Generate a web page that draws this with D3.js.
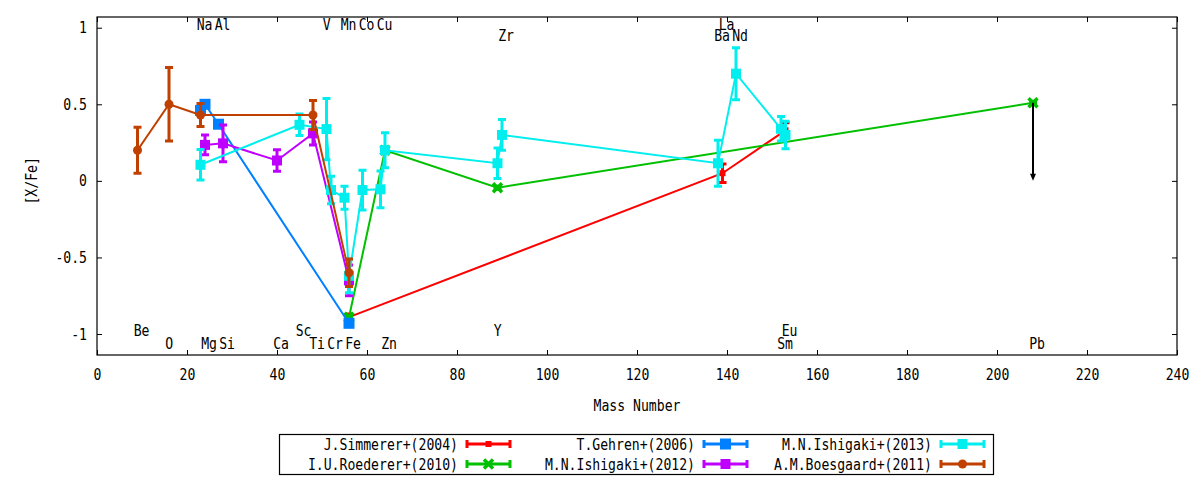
<!DOCTYPE html>
<html>
<head>
<meta charset="utf-8">
<script src="https://cdn.jsdelivr.net/npm/d3@7"></script>
<style>
  body { margin: 0; background: #fff; }
  text { font-family: "DejaVu Sans Mono", monospace; font-size: 16px; fill: #000; }
</style>
</head>
<body>
<div id="wrapper"></div>
<script>
// values: mass number, [X/Fe], error
const simmererMass = [56, 139, 153]
const simmererVal  = [-0.89, 0.05, 0.33]
const simmererErr  = [0.02, 0.06, 0.05]

const roedererMass = [56, 64, 89, 208]
const roedererVal  = [-0.89, 0.2, -0.045, 0.51]
const roedererErr  = [0.01, 0.01, 0.01, 0.01]

const gehrenMass = [23, 24, 27, 56]
const gehrenVal  = [0.46, 0.5, 0.37, -0.93]
const gehrenErr  = [0.02, 0.02, 0.02, 0.02]

const ishigaki12Mass = [24, 28, 40, 48, 56]
const ishigaki12Val  = [0.235, 0.245, 0.133, 0.31, -0.65]
const ishigaki12Err  = [0.065, 0.12, 0.07, 0.075, 0.1]

const ishigaki13Mass = [23, 45, 51, 52, 55, 56, 59, 63, 64, 89, 90, 138, 142, 152, 153]
const ishigaki13Val  = [0.105, 0.366, 0.338, -0.06, -0.11, -0.62, -0.06, -0.055, 0.2, 0.115, 0.3, 0.115, 0.7, 0.34, 0.3]
const ishigaki13Err  = [0.1, 0.07, 0.2, 0.09, 0.075, 0.11, 0.13, 0.12, 0.115, 0.1, 0.1, 0.15, 0.17, 0.08, 0.09]

const boesgaardMass = [9, 16, 23, 48, 56]
const boesgaardVal  = [0.2, 0.5, 0.43, 0.43, -0.6]
const boesgaardErr  = [0.15, 0.24, 0.075, 0.095, 0.09]

// upper limit arrow (Pb)
const limitMass = [208]
const limitFrom = [0.51]
const limitTo   = [0]

// element labels: name, mass, label height in [X/Fe]
const elemNames = ["Be","O","Na","Mg","Al","Si","Ca","Sc","Ti","V","Cr","Mn","Fe","Co","Cu","Zn","Y","Zr","Ba","La","Nd","Sm","Eu","Pb"]
const elemMass  = [9, 16, 23, 24, 27, 28, 40, 45, 48, 51, 52, 55, 56, 59, 63, 64, 89, 90, 138, 139, 142, 152, 153, 208]
const elemY     = [-0.974, -1.065, 1.02, -1.065, 1.02, -1.065, -1.065, -0.974, -1.065, 1.02, -1.065, 1.02, -1.065, 1.02, 1.02, -1.065, -0.974, 0.948, 0.948, 1.02, 0.948, -1.065, -0.974, -1.065]

const xTicks = [0, 20, 40, 60, 80, 100, 120, 140, 160, 180, 200, 220, 240]
const yTicks = [-1, -0.5, 0, 0.5, 1]

function drawChart() {

  let dimensions = {
    width: 1200,
    height: 480,
    margin: {
      top: 17,
      right: 23,
      bottom: 125,
      left: 97,
    },
  }
  dimensions.boundedWidth = dimensions.width
    - dimensions.margin.left
    - dimensions.margin.right
  dimensions.boundedHeight = dimensions.height
    - dimensions.margin.top
    - dimensions.margin.bottom

  const wrapper = d3.select("#wrapper")
    .append("svg")
      .attr("width", dimensions.width)
      .attr("height", dimensions.height)

  const bounds = wrapper.append("g")
      .attr("transform", `translate(${dimensions.margin.left},${dimensions.margin.top})`)

  const xScale = d3.scaleLinear()
    .domain([0, 240])
    .range([0, dimensions.boundedWidth])

  const yScale = d3.scaleLinear()
    .domain([-1.137, 1.07])
    .range([dimensions.boundedHeight, 0])

  // axes, gnuplot style: ticks inward and mirrored
  const fmt = d => String(d)
  const xAxis = bounds.append("g")
      .attr("transform", `translate(0,${dimensions.boundedHeight})`)
      .call(d3.axisBottom(xScale).tickValues(xTicks).tickFormat(fmt).tickSize(-5).tickPadding(14))
  const xAxisTop = bounds.append("g")
      .call(d3.axisTop(xScale).tickValues(xTicks).tickFormat("").tickSize(-5))
  const yAxis = bounds.append("g")
      .call(d3.axisLeft(yScale).tickValues(yTicks).tickFormat(fmt).tickSize(-5).tickPadding(10))
  const yAxisRight = bounds.append("g")
      .attr("transform", `translate(${dimensions.boundedWidth},0)`)
      .call(d3.axisRight(yScale).tickValues(yTicks).tickFormat("").tickSize(-5))

  bounds.selectAll(".domain").remove()
  bounds.selectAll(".tick text")
      .style("font-family", "DejaVu Sans Mono")
      .style("font-size", "16px")
  bounds.selectAll(".tick line").attr("stroke", "#000")

  bounds.append("rect")
      .attr("width", dimensions.boundedWidth)
      .attr("height", dimensions.boundedHeight)
      .attr("fill", "none")
      .attr("stroke", "#000")
      .attr("stroke-width", 1.2)

  // axis titles
  bounds.append("text")
      .attr("x", xScale(120))
      .attr("y", dimensions.boundedHeight + 50)
      .attr("text-anchor", "middle")
      .attr("dominant-baseline", "central")
      .text("Mass Number")

  bounds.append("text")
      .attr("transform", `translate(${-66},${yScale(0)}) rotate(-90)`)
      .attr("text-anchor", "middle")
      .attr("dominant-baseline", "central")
      .text("[X/Fe]")

  // element labels, left aligned just before the mass number
  const unit = xScale(1) - xScale(0)
  bounds.append("g").selectAll("text")
    .data(elemNames)
    .join("text")
      .attr("x", (d, i) => xScale(elemMass[i]) - 0.85 * unit)
      .attr("y", (d, i) => yScale(elemY[i]))
      .attr("text-anchor", "start")
      .attr("dominant-baseline", "central")
      .text(d => d)

  const series = [
    {name: "J.Simmerer+(2004)", color: "#ff0000", mass: simmererMass, val: simmererVal, err: simmererErr, marker: "small"},
    {name: "I.U.Roederer+(2010)", color: "#00c000", mass: roedererMass, val: roedererVal, err: roedererErr, marker: "cross"},
    {name: "T.Gehren+(2006)", color: "#0080ff", mass: gehrenMass, val: gehrenVal, err: gehrenErr, marker: "bigsquare"},
    {name: "M.N.Ishigaki+(2012)", color: "#c000ff", mass: ishigaki12Mass, val: ishigaki12Val, err: ishigaki12Err, marker: "square"},
    {name: "M.N.Ishigaki+(2013)", color: "#00eeee", mass: ishigaki13Mass, val: ishigaki13Val, err: ishigaki13Err, marker: "square"},
    {name: "A.M.Boesgaard+(2011)", color: "#c04000", mass: boesgaardMass, val: boesgaardVal, err: boesgaardErr, marker: "circle"},
  ]

  const drawMarker = (g, type, color, cx, cy) => {
    if (type == "small") {
      g.append("rect").attr("x", cx - 3).attr("y", cy - 3).attr("width", 6).attr("height", 6).attr("fill", color)
    } else if (type == "cross") {
      g.append("path")
        .attr("d", `M${cx-4.5},${cy-4.5}L${cx+4.5},${cy+4.5}M${cx-4.5},${cy+4.5}L${cx+4.5},${cy-4.5}`)
        .attr("stroke", color).attr("stroke-width", 3.5).attr("fill", "none")
    } else if (type == "bigsquare") {
      g.append("rect").attr("x", cx - 5.5).attr("y", cy - 5.5).attr("width", 11).attr("height", 11).attr("fill", color)
    } else if (type == "square") {
      g.append("rect").attr("x", cx - 5).attr("y", cy - 5).attr("width", 10).attr("height", 10).attr("fill", color)
    } else {
      g.append("circle").attr("cx", cx).attr("cy", cy).attr("r", 4.5).attr("fill", color)
    }
  }

  const capW = 4
  series.forEach(s => {
    const g = bounds.append("g")
    const idx = d3.range(s.mass.length)
    const lineGenerator = d3.line()
      .x(i => xScale(s.mass[i]))
      .y(i => yScale(s.val[i]))
    g.append("path")
        .attr("d", lineGenerator(idx))
        .attr("fill", "none")
        .attr("stroke", s.color)
        .attr("stroke-width", 2)

    idx.forEach(i => {
      const cx = xScale(s.mass[i])
      const y0 = yScale(s.val[i] - s.err[i])
      const y1 = yScale(s.val[i] + s.err[i])
      g.append("path")
          .attr("d", `M${cx},${y0}L${cx},${y1}M${cx-capW},${y0}L${cx+capW},${y0}M${cx-capW},${y1}L${cx+capW},${y1}`)
          .attr("stroke", s.color)
          .attr("stroke-width", 3)
          .attr("fill", "none")
      drawMarker(g, s.marker, s.color, cx, yScale(s.val[i]))
    })
  })

  // Pb upper limit
  limitMass.forEach((m, i) => {
    const cx = xScale(m)
    const yEnd = yScale(limitTo[i])
    bounds.append("path")
        .attr("d", `M${cx},${yScale(limitFrom[i])}L${cx},${yEnd - 4}`)
        .attr("stroke", "#000").attr("stroke-width", 2)
    bounds.append("path")
        .attr("d", `M${cx-3},${yEnd-7}L${cx+3},${yEnd-7}L${cx},${yEnd}Z`)
        .attr("fill", "#000")
  })

  // legend: 3 columns, 2 rows, filled column by column
  const legend = wrapper.append("g")
  legend.append("rect")
      .attr("x", 279.5).attr("y", 434.5)
      .attr("width", 714).attr("height", 40)
      .attr("fill", "none").attr("stroke", "#000").attr("stroke-width", 1.2)

  series.forEach((s, i) => {
    const col = Math.floor(i / 2)
    const row = i % 2
    const tx = 458 + col * 237
    const ty = 444 + row * 20
    legend.append("text")
        .attr("x", tx).attr("y", ty)
        .attr("text-anchor", "end")
        .attr("dominant-baseline", "central")
        .text(s.name)
    const x0 = tx + 9, x1 = tx + 52, xm = (x0 + x1) / 2
    legend.append("path")
        .attr("d", `M${x0},${ty}L${x1},${ty}M${x0},${ty-4}L${x0},${ty+4}M${x1},${ty-4}L${x1},${ty+4}`)
        .attr("stroke", s.color).attr("stroke-width", 3).attr("fill", "none")
    drawMarker(legend, s.marker, s.color, xm, ty)
  })

  // the reference uses a narrow monospace face: squeeze every text to 7.9px per character
  wrapper.selectAll("text")
      .filter(function() { return this.textContent.length > 0 })
      .attr("textLength", function() { return this.textContent.length * 7.9 })
      .attr("lengthAdjust", "spacingAndGlyphs")
}

drawChart()
</script>
</body>
</html>
